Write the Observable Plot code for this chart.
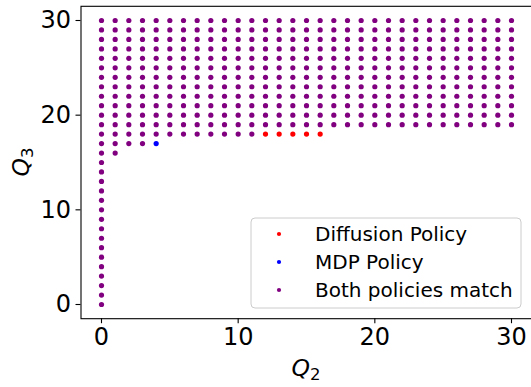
<!DOCTYPE html>
<html>
<head>
<meta charset="utf-8">
<script src="https://cdn.jsdelivr.net/npm/d3@7"></script>
<script src="https://cdn.jsdelivr.net/npm/@observablehq/plot@0.6"></script>
<style>
  html, body { margin: 0; padding: 0; background: #fff; }
  svg { font-family: "DejaVu Sans", sans-serif; }
</style>
</head>
<body>
<div id="chart"></div>
<script>
// Q2 columns of the state grid
const q2Columns = [0, 1, 2, 3, 4, 5, 6, 7, 8, 9, 10, 11, 12, 13, 14, 15,
  16, 17, 18, 19, 20, 21, 22, 23, 24, 25, 26, 27, 28, 29, 30];
// lowest Q3 where both policies agree, per Q2 column (agreement up to Q3 = 30)
const matchFloor = [0, 16, 17, 17, 18, 18, 18, 18, 18, 18, 18, 18, 19, 19, 19, 19,
  19, 19, 19, 19, 19, 19, 19, 19, 19, 19, 19, 19, 19, 19, 19];
const q3Max = 30;
// states flagged only by the diffusion policy
const diffusionQ2 = [12, 13, 14, 15, 16];
const diffusionQ3 = [18, 18, 18, 18, 18];
// states flagged only by the MDP policy
const mdpQ2 = [4];
const mdpQ3 = [17];
const xTicks = [0, 10, 20, 30];
const yTicks = [0, 10, 20, 30];
const seriesNames = ["Diffusion Policy", "MDP Policy", "Both policies match"];
const seriesColors = ["#ff0000", "#0000ff", "#800080"];

const matchPoints = [];
q2Columns.forEach((q2, i) => {
  for (let q3 = matchFloor[i]; q3 <= q3Max; q3++) matchPoints.push({q2, q3});
});
const diffusionPoints = diffusionQ2.map((q2, i) => ({q2, q3: diffusionQ3[i]}));
const mdpPoints = mdpQ2.map((q2, i) => ({q2, q3: mdpQ3[i]}));

const W = 531, H = 387;
const plot = Plot.plot({
  width: W,
  height: H,
  marginLeft: 80.5,
  marginRight: -0.5,
  marginTop: 5.8,
  marginBottom: 68.8,
  style: {fontFamily: "DejaVu Sans, sans-serif", background: "#fff", overflow: "visible"},
  x: {domain: [-1.5, 31.5], axis: null},
  y: {domain: [-1.5, 31.5], axis: null},
  marks: [
    Plot.dot(matchPoints, {x: "q2", y: "q3", r: 2.6, fill: seriesColors[2], stroke: null}),
    Plot.dot(diffusionPoints, {x: "q2", y: "q3", r: 2.6, fill: seriesColors[0], stroke: null}),
    Plot.dot(mdpPoints, {x: "q2", y: "q3", r: 2.6, fill: seriesColors[1], stroke: null}),
    Plot.frame({stroke: "#000", strokeWidth: 1.1}),
    Plot.axisX(xTicks, {anchor: "bottom", tickSize: 5, tickPadding: 4, fontSize: 24, tickFormat: d => String(d), stroke: "#000", strokeWidth: 1.1, label: null}),
    Plot.axisY(yTicks, {anchor: "left", tickSize: 5, tickPadding: 5, fontSize: 24, tickFormat: d => String(d), stroke: "#000", strokeWidth: 1.1, label: null})
  ]
});
document.getElementById("chart").appendChild(plot);

const svg = d3.select(plot);
svg.selectAll("text").attr("fill", "#000");

// axis titles: italic Q with subscript index
const xLabel = svg.append("text")
  .attr("x", 306).attr("y", 376)
  .attr("text-anchor", "middle")
  .attr("font-size", 23.5).attr("fill", "#000");
xLabel.append("tspan").attr("font-style", "italic").text("Q");
xLabel.append("tspan").attr("font-size", 16.5).attr("dy", 4).text("2");

const yLabel = svg.append("text")
  .attr("transform", "translate(29,162) rotate(-90)")
  .attr("text-anchor", "middle")
  .attr("font-size", 23.5).attr("fill", "#000");
yLabel.append("tspan").attr("font-style", "italic").text("Q");
yLabel.append("tspan").attr("font-size", 16.5).attr("dy", 4).text("3");

// legend box in the lower right of the axes
const legend = svg.append("g").attr("text-anchor", "start");
legend.append("rect")
  .attr("x", 251).attr("y", 218).attr("width", 270).attr("height", 90)
  .attr("rx", 4).attr("ry", 4)
  .attr("fill", "#fff").attr("fill-opacity", 0.8)
  .attr("stroke", "#cccccc").attr("stroke-width", 1);
seriesNames.forEach((name, i) => {
  const cy = 234 + i * 28;
  legend.append("circle").attr("cx", 279).attr("cy", cy).attr("r", 2.1).attr("fill", seriesColors[i]);
  legend.append("text").attr("x", 315).attr("y", cy).attr("dy", "0.36em")
    .attr("text-anchor", "start")
    .attr("font-size", 20).attr("fill", "#000").text(name);
});
</script>
</body>
</html>
